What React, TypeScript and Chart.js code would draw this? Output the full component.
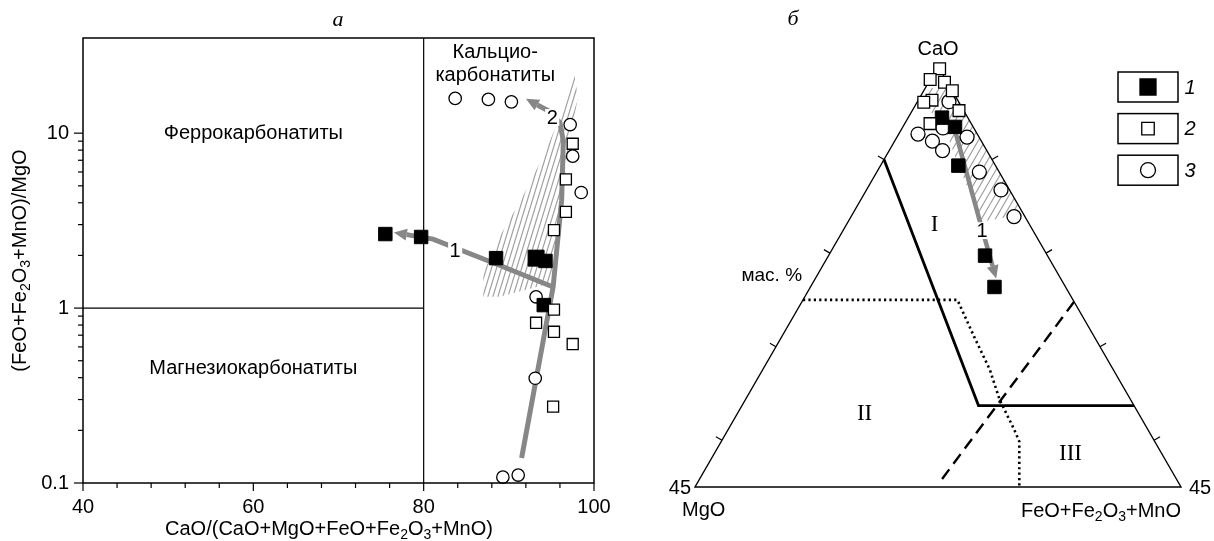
import React, { useEffect, useRef } from 'react';
import { Chart, registerables } from 'chart.js';

Chart.register(...registerables);

const SANS = '"Liberation Sans", Arial, Helvetica, sans-serif';
const SERIF = '"Liberation Serif", "Times New Roman", Times, serif';
const GRAY = '#878787';
const HATCH_GRAY = '#a0a0a0';

// ================= Panel а =================
// x: CaO/(CaO+MgO+FeO+Fe2O3+MnO), y: (FeO+Fe2O3+MnO)/MgO (log)
const xTickValuesA = [40, 44, 48, 52, 56, 60, 64, 68, 72, 76, 80, 84, 88, 92, 96, 100];
const xLabelsA = [40, 60, 80, 100];
const yLabelsA = [0.1, 1, 10];
const yMinorA = [0.2, 0.3, 0.4, 0.5, 0.6, 0.7, 0.8, 0.9, 2, 3, 4, 5, 6, 7, 8, 9];

// group 1 (filled squares)
const group1A = [[75.5, 2.65], [79.7, 2.55], [88.5, 1.93], [93.2, 1.93], [94.3, 1.86], [94.1, 1.04]];
const group1ABig = [false, false, false, true, false, false];
// group 2 (open squares)
const group2A = [[97.5, 8.7], [96.7, 5.44], [96.7, 3.55], [95.3, 2.79], [95.3, 0.98], [93.2, 0.824], [95.3, 0.732], [97.5, 0.623], [95.2, 0.273]];
// group 3 (open circles)
const group3A = [[83.7, 15.8], [87.6, 15.6], [90.3, 15.1], [97.2, 11.2], [97.5, 7.39], [98.5, 4.58], [93.2, 1.16], [93.1, 0.397], [89.3, 0.108], [91.1, 0.111]];
// trends
const trend1A = [[95.2, 1.32], [88.6, 1.78], [81.1, 2.48], [78.0, 2.63]];
const trend2A = [[91.5, 0.139], [95.2, 1.32], [96.2, 4.14], [96.4, 9.0], [96.0, 11.5], [94.8, 13.3], [93.35, 14.5]];
const trend1LabelA = [83.7, 2.14];
const trend2LabelA = [95.1, 12.3];
// hatched field
const hatchA = [[97.6, 23.4], [98.1, 16.1], [96.8, 6.7], [95.6, 2.79], [95.0, 1.39], [88.9, 1.16], [87.0, 1.16], [87.0, 1.58], [88.9, 2.55], [91.6, 4.3], [94.0, 7.3], [96.0, 12.3], [97.2, 20]];

const regionLabelsA = [
  { text: 'Феррокарбонатиты', at: [60, 10] },
  { text: 'Магнезиокарбонатиты', at: [60, 0.454] },
  { text: 'Кальцио-', at: [88.4, 29] },
  { text: 'карбонатиты', at: [88.4, 21.5] },
];

// ================= Panel б (ternary CaO – MgO – FeO+Fe2O3+MnO, CaO 55–100) =================
const SPAN = 45;
const vertexCa = [100, 0, 0];
const vertexMg = [55, 45, 0];
const vertexFe = [55, 0, 45];
const ternTickCaO = [90, 80, 70, 60];

// [CaO, MgO, FeO+Fe2O3+MnO]
const group1B = [[94.48, 2.39, 3.13], [93.49, 1.68, 4.83], [89.35, 3.44, 7.21], [79.73, 5.78, 14.49], [76.38, 6.58, 17.04]];
const group2B = [[99.7, 0, 0.3], [98.55, 1.45, 0], [98.26, 0.27, 1.47], [97.35, 0, 2.65], [96.35, 2.38, 1.27], [96.12, 3.26, 0.62], [95.23, 0.44, 4.33], [93.84, 3.82, 2.34]];
const group3B = [[96.19, 0.89, 2.92], [92.72, 5.49, 1.79], [91.97, 4.53, 3.5], [93.38, 2.85, 3.77], [92.4, 1.11, 6.49], [90.96, 4.1, 4.94], [88.66, 1.84, 9.5], [86.75, 0.79, 12.46], [83.9, 1.01, 15.09]];
const trendB = [[93.5, 1.77, 4.74], [83.4, 4.43, 12.2], [78.62, 5.63, 15.75]];
const trendLabelB = [82.4, 4.73, 12.87];
const hatchB = [[97.69, 2.27, 0.04], [97.48, 0, 2.52], [84.65, 0, 15.35], [84.0, 0.78, 15.22], [83.37, 4.24, 12.39], [88.92, 3.5, 7.58], [93.2, 2.75, 4.05], [95.87, 3.27, 0.86]];
const boundarySolid = [[90, 10, 0], [63.7, 14.4, 21.9], [63.7, 0, 36.3]];
const boundaryDotted = [[75, 25, 0], [75, 10.7, 14.3], [71.1, 11.12, 17.78], [67.54, 11.43, 21.03], [64.33, 12.13, 23.54], [61.31, 12.36, 26.33], [59.87, 12.54, 27.59], [55, 14.97, 30.03]];
const boundaryDashed = [[74.8, 0, 25.2], [55.5, 22.1, 22.4]];
const fieldLabelsB = [
  { text: 'I', at: [83.04, 8.8, 8.16] },
  { text: 'II', at: [62.84, 25.38, 11.78] },
  { text: 'III', at: [58.53, 8.47, 33.0] },
];
const legendLabels = ['1', '2', '3'];

type Pt = { x: number; y: number };
type Part = [string, boolean];

const xTitleA: Part[] = [['CaO/(CaO+MgO+FeO+Fe', false], ['2', true], ['O', false], ['3', true], ['+MnO)', false]];
const yTitleA: Part[] = [['(FeO+Fe', false], ['2', true], ['O', false], ['3', true], ['+MnO)/MgO', false]];
const feLabelB: Part[] = [['FeO+Fe', false], ['2', true], ['O', false], ['3', true], ['+MnO', false]];

function tern(p: number[]): Pt {
  const s = p[0] + p[1] + p[2];
  const mg = (p[1] / s) * 100;
  const fe = (p[2] / s) * 100;
  const wB = mg / SPAN;
  const wC = fe / SPAN;
  const wA = 1 - wB - wC;
  return { x: wA * 0.5 + wC, y: wA };
}

function drawRich(ctx: CanvasRenderingContext2D, parts: Part[], x: number, y: number, size: number, align: string) {
  const big = `${size}px ${SANS}`;
  const small = `${Math.round(size * 0.7)}px ${SANS}`;
  let total = 0;
  const widths = parts.map(([t, sub]) => {
    ctx.font = sub ? small : big;
    const w = ctx.measureText(t).width;
    total += w;
    return w;
  });
  let cx = align === 'center' ? x - total / 2 : align === 'right' ? x - total : x;
  ctx.textAlign = 'left';
  ctx.textBaseline = 'alphabetic';
  ctx.fillStyle = '#000';
  parts.forEach(([t, sub], i) => {
    ctx.font = sub ? small : big;
    ctx.fillText(t, cx, sub ? y + size * 0.22 : y);
    cx += widths[i];
  });
}

function drawHatch(ctx: CanvasRenderingContext2D, pts: Pt[], angleDeg: number, gap: number, color: string, lw: number) {
  ctx.save();
  ctx.beginPath();
  pts.forEach((p, i) => (i ? ctx.lineTo(p.x, p.y) : ctx.moveTo(p.x, p.y)));
  ctx.closePath();
  ctx.clip();
  const xs = pts.map((p) => p.x);
  const ys = pts.map((p) => p.y);
  const minX = Math.min(...xs), maxX = Math.max(...xs), minY = Math.min(...ys), maxY = Math.max(...ys);
  const cx = (minX + maxX) / 2, cy = (minY + maxY) / 2;
  const R = Math.hypot(maxX - minX, maxY - minY) / 2 + 4;
  const a = (angleDeg * Math.PI) / 180;
  const dx = Math.cos(a), dy = -Math.sin(a);
  const nx = -dy, ny = dx;
  ctx.strokeStyle = color;
  ctx.lineWidth = lw;
  ctx.beginPath();
  for (let t = -R; t <= R; t += gap) {
    const ox = cx + nx * t, oy = cy + ny * t;
    ctx.moveTo(ox - dx * R, oy - dy * R);
    ctx.lineTo(ox + dx * R, oy + dy * R);
  }
  ctx.stroke();
  ctx.restore();
}

function drawArrowHead(ctx: CanvasRenderingContext2D, from: Pt, to: Pt, len: number, halfW: number, color: string) {
  const ang = Math.atan2(to.y - from.y, to.x - from.x);
  ctx.save();
  ctx.translate(to.x, to.y);
  ctx.rotate(ang);
  ctx.fillStyle = color;
  ctx.beginPath();
  ctx.moveTo(len, 0);
  ctx.lineTo(0, -halfW);
  ctx.lineTo(0, halfW);
  ctx.closePath();
  ctx.fill();
  ctx.restore();
}

function drawTag(ctx: CanvasRenderingContext2D, text: string, x: number, y: number, size: number) {
  ctx.save();
  ctx.font = `${size}px ${SANS}`;
  const w = ctx.measureText(text).width;
  ctx.fillStyle = '#fff';
  ctx.fillRect(x - w / 2 - 1.5, y - size * 0.42, w + 3, size * 0.84);
  ctx.fillStyle = '#000';
  ctx.textAlign = 'center';
  ctx.textBaseline = 'middle';
  ctx.fillText(text, x, y + 1);
  ctx.restore();
}

function line(ctx: CanvasRenderingContext2D, x1: number, y1: number, x2: number, y2: number) {
  ctx.beginPath();
  ctx.moveTo(x1, y1);
  ctx.lineTo(x2, y2);
  ctx.stroke();
}

const toXY = (arr: number[][]) => arr.map(([x, y]) => ({ x, y }));

const panelAPlugin = {
  id: 'panelA',
  beforeDatasetsDraw(chart: any) {
    const { ctx, chartArea: ca, scales } = chart;
    const xs = scales.x, ys = scales.y;
    drawHatch(ctx, hatchA.map(([a, b]) => ({ x: xs.getPixelForValue(a), y: ys.getPixelForValue(b) })), 73, 4.8, HATCH_GRAY, 1.2);
    ctx.save();
    ctx.strokeStyle = '#000';
    ctx.lineWidth = 1.2;
    const x80 = xs.getPixelForValue(80);
    line(ctx, x80, ca.top, x80, ca.bottom);
    const y1 = ys.getPixelForValue(1);
    line(ctx, ca.left, y1, x80, y1);
    ctx.restore();
  },
  afterDatasetDraw(chart: any, args: any) {
    const ds = chart.data.datasets[args.index];
    if (!ds.arrow) return;
    const pts = args.meta.data;
    const n = pts.length;
    const { ctx, scales } = chart;
    drawArrowHead(ctx, pts[n - 2], pts[n - 1], 13, 6, GRAY);
    drawTag(ctx, ds.tagText, scales.x.getPixelForValue(ds.tagAt[0]), scales.y.getPixelForValue(ds.tagAt[1]), 20);
  },
  afterDraw(chart: any) {
    const { ctx, chartArea: ca, scales } = chart;
    const xs = scales.x, ys = scales.y;
    ctx.save();
    ctx.strokeStyle = '#000';
    ctx.lineWidth = 1.5;
    ctx.strokeRect(ca.left, ca.top, ca.right - ca.left, ca.bottom - ca.top);
    ctx.lineWidth = 1.2;
    xs.ticks.forEach((t: any) => {
      const px = xs.getPixelForValue(t.value);
      const len = xLabelsA.includes(t.value) ? 8 : 5;
      line(ctx, px, ca.bottom, px, ca.bottom + len);
    });
    ys.ticks.forEach((t: any) => {
      const py = ys.getPixelForValue(t.value);
      const len = yLabelsA.includes(t.value) ? 9 : 5;
      line(ctx, ca.left - len, py, ca.left, py);
    });
    // titles
    drawRich(ctx, xTitleA, 329, 535, 20, 'center');
    ctx.save();
    ctx.translate(26, (ca.top + ca.bottom) / 2);
    ctx.rotate(-Math.PI / 2);
    drawRich(ctx, yTitleA, 0, 0, 20, 'center');
    ctx.restore();
    // region labels
    ctx.fillStyle = '#000';
    ctx.font = `20px ${SANS}`;
    ctx.textAlign = 'center';
    ctx.textBaseline = 'middle';
    regionLabelsA.forEach((r) => {
      ctx.fillText(r.text, xs.getPixelForValue(r.at[0]), ys.getPixelForValue(r.at[1]));
    });
    // panel letter
    ctx.font = `italic 22px ${SERIF}`;
    ctx.fillText('а', 338, 20);
    ctx.restore();
  },
};

const panelBPlugin = {
  id: 'panelB',
  beforeDatasetsDraw(chart: any) {
    const { ctx, scales } = chart;
    const P = (p: number[]) => {
      const t = tern(p);
      return { x: scales.x.getPixelForValue(t.x), y: scales.y.getPixelForValue(t.y) };
    };
    drawHatch(ctx, hatchB.map(P), 60, 6, HATCH_GRAY, 1.2);
  },
  afterDatasetDraw(chart: any, args: any) {
    const ds = chart.data.datasets[args.index];
    if (!ds.arrow) return;
    const pts = args.meta.data;
    const n = pts.length;
    const { ctx, scales } = chart;
    drawArrowHead(ctx, pts[n - 2], pts[n - 1], 13, 6, GRAY);
    const t = tern(ds.tagAt);
    drawTag(ctx, ds.tagText, scales.x.getPixelForValue(t.x), scales.y.getPixelForValue(t.y), 20);
  },
  afterDraw(chart: any) {
    const { ctx, scales } = chart;
    const P = (p: number[]) => {
      const t = tern(p);
      return { x: scales.x.getPixelForValue(t.x), y: scales.y.getPixelForValue(t.y) };
    };
    const A = P(vertexCa), B = P(vertexMg), C = P(vertexFe);
    ctx.save();
    ctx.strokeStyle = '#000';
    ctx.lineWidth = 1.2;
    // edge ticks (perpendicular, outward)
    const lx = A.x - B.x, ly = A.y - B.y, ll = Math.hypot(lx, ly);
    const nLx = ly / ll, nLy = -lx / ll;
    const rx = A.x - C.x, ry = A.y - C.y, rl = Math.hypot(rx, ry);
    const nRx = -ry / rl, nRy = rx / rl;
    ternTickCaO.forEach((ca) => {
      const l = P([ca, 100 - ca, 0]);
      line(ctx, l.x, l.y, l.x + nLx * 7, l.y + nLy * 7);
      const r = P([ca, 0, 100 - ca]);
      line(ctx, r.x, r.y, r.x + nRx * 7, r.y + nRy * 7);
    });
    ctx.fillStyle = '#000';
    ctx.font = `20px ${SANS}`;
    ctx.textBaseline = 'middle';
    ctx.textAlign = 'center';
    ctx.fillText('CaO', A.x, A.y - 17);
    ctx.textAlign = 'right';
    ctx.fillText('45', B.x - 4, B.y + 1);
    ctx.textAlign = 'left';
    ctx.fillText('45', C.x + 8, C.y + 1);
    ctx.fillText('MgO', B.x - 13, B.y + 23);
    drawRich(ctx, feLabelB, C.x, C.y + 30, 20, 'right');
    // mass %
    const m = P([77.6, 22.4, 0]);
    ctx.font = `19px ${SANS}`;
    ctx.textAlign = 'right';
    ctx.textBaseline = 'middle';
    ctx.fillText('мас. %', m.x - 15, m.y);
    // field labels
    ctx.font = `23px ${SERIF}`;
    ctx.textAlign = 'center';
    fieldLabelsB.forEach((f) => {
      const p = P(f.at);
      ctx.fillText(f.text, p.x, p.y);
    });
    // panel letter
    ctx.font = `italic 22px ${SERIF}`;
    ctx.fillText('б', 183, 19);
    // legend
    const dss = chart.data.datasets;
    legendLabels.forEach((lab, i) => {
      const ds = dss.find((d: any) => d.label === lab);
      const bx = 508, by = 72 + i * 41.6, bw = 60, bh = 30;
      ctx.lineWidth = 1.5;
      ctx.strokeStyle = '#000';
      ctx.strokeRect(bx, by, bw, bh);
      const cx = bx + 30, cy = by + bh / 2;
      ctx.lineWidth = 1.3;
      ctx.fillStyle = ds.backgroundColor;
      ctx.beginPath();
      if (ds.pointStyle === 'circle') {
        ctx.arc(cx, cy, 7.5, 0, Math.PI * 2);
      } else {
        const s = ds.backgroundColor === '#000' ? 16 : 12.5;
        ctx.rect(cx - s / 2, cy - s / 2, s, s);
      }
      ctx.fill();
      ctx.stroke();
      ctx.fillStyle = '#000';
      ctx.font = `italic 20px ${SANS}`;
      ctx.textAlign = 'center';
      ctx.textBaseline = 'middle';
      ctx.fillText(lab, bx + bw + 12, cy + 1);
    });
    ctx.restore();
  },
};

export default function App() {
  const refA = useRef<HTMLCanvasElement>(null);
  const refB = useRef<HTMLCanvasElement>(null);

  useEffect(() => {
    Chart.defaults.font.family = SANS;
    Chart.defaults.color = '#000';

    const chartA = new Chart(refA.current as HTMLCanvasElement, {
      type: 'scatter',
      data: {
        datasets: [
          {
            label: '2', data: toXY(group2A), pointStyle: 'rect', pointRadius: 7.8,
            backgroundColor: '#fff', borderColor: '#000', borderWidth: 1.3, order: 1, clip: false,
          },
          {
            label: '1', data: toXY(group1A), pointStyle: 'rect',
            pointRadius: group1ABig.map((b) => (b ? 11.3 : 9.5)),
            backgroundColor: '#000', borderColor: '#000', borderWidth: 1, order: 2, clip: false,
          },
          {
            label: '3', data: toXY(group3A), pointStyle: 'circle', pointRadius: 6.2,
            backgroundColor: '#fff', borderColor: '#000', borderWidth: 1.3, order: 3, clip: false,
          },
          {
            label: 'trend1', data: toXY(trend1A), showLine: true, pointRadius: 0, borderColor: GRAY,
            borderWidth: 5, order: 10, arrow: true, tagText: '1', tagAt: trend1LabelA, clip: false,
          } as any,
          {
            label: 'trend2', data: toXY(trend2A), showLine: true, pointRadius: 0, borderColor: GRAY,
            borderWidth: 5, order: 11, arrow: true, tagText: '2', tagAt: trend2LabelA, clip: false,
          } as any,
        ],
      },
      options: {
        responsive: false,
        animation: false,
        events: [],
        layout: { padding: { left: 0, top: 38, right: 18, bottom: 0 } },
        plugins: { legend: { display: false }, tooltip: { enabled: false } },
        scales: {
          x: {
            type: 'linear', min: 40, max: 100,
            afterBuildTicks: (s: any) => { s.ticks = xTickValuesA.map((v) => ({ value: v })); },
            afterFit: (s: any) => { s.height = 58; s.paddingLeft = 0; s.paddingRight = 0; },
            ticks: {
              autoSkip: false, maxRotation: 0, minRotation: 0, padding: 4, color: '#000',
              font: { family: SANS, size: 20 },
              callback: (v: any) => (xLabelsA.includes(Number(v)) ? String(v) : ''),
            },
            grid: { display: false },
            border: { display: false },
          },
          y: {
            type: 'logarithmic', min: 0.1, max: 35,
            afterBuildTicks: (s: any) => {
              s.ticks = [...yLabelsA, ...yMinorA].sort((a, b) => a - b).map((v) => ({ value: v }));
            },
            afterFit: (s: any) => { s.width = 83; s.paddingTop = 0; s.paddingBottom = 0; },
            ticks: {
              autoSkip: false, padding: 6, color: '#000',
              font: { family: SANS, size: 20 },
              callback: (v: any) => (yLabelsA.includes(Number(v)) ? String(v) : ''),
            },
            grid: { display: false },
            border: { display: false },
          },
        },
      } as any,
      plugins: [panelAPlugin],
    });

    const P = (arr: number[][]) => arr.map(tern);
    const chartB = new Chart(refB.current as HTMLCanvasElement, {
      type: 'scatter',
      data: {
        datasets: [
          {
            label: '2', data: P(group2B), pointStyle: 'rect', pointRadius: 8.3,
            backgroundColor: '#fff', borderColor: '#000', borderWidth: 1.3, order: 1, clip: false,
          },
          {
            label: '1', data: P(group1B), pointStyle: 'rect', pointRadius: 9.5,
            backgroundColor: '#000', borderColor: '#000', borderWidth: 1, order: 2, clip: false,
          },
          {
            label: '3', data: P(group3B), pointStyle: 'circle', pointRadius: 7,
            backgroundColor: '#fff', borderColor: '#000', borderWidth: 1.3, order: 3, clip: false,
          },
          {
            label: 'trend', data: P(trendB), showLine: true, pointRadius: 0, borderColor: GRAY,
            borderWidth: 4.5, order: 10, arrow: true, tagText: '1', tagAt: trendLabelB, clip: false,
          } as any,
          {
            label: 'edges', data: P([vertexCa, vertexMg, vertexFe, vertexCa]), showLine: true, pointRadius: 0,
            borderColor: '#000', borderWidth: 1.4, order: 20, clip: false,
          },
          {
            label: 'solid', data: P(boundarySolid), showLine: true, pointRadius: 0,
            borderColor: '#000', borderWidth: 2.8, order: 15, clip: false,
          },
          {
            label: 'dotted', data: P(boundaryDotted), showLine: true, pointRadius: 0,
            borderColor: '#000', borderWidth: 2.6, borderDash: [2.2, 3.2], order: 16, clip: false,
          },
          {
            label: 'dashed', data: P(boundaryDashed), showLine: true, pointRadius: 0,
            borderColor: '#000', borderWidth: 2.4, borderDash: [12, 7], order: 17, clip: false,
          },
        ],
      },
      options: {
        responsive: false,
        animation: false,
        events: [],
        layout: { padding: { left: 85, right: 33, top: 66, bottom: 54 } },
        plugins: { legend: { display: false }, tooltip: { enabled: false } },
        scales: {
          x: { type: 'linear', min: 0, max: 1, display: false },
          y: { type: 'linear', min: 0, max: 1, display: false },
        },
      } as any,
      plugins: [panelBPlugin],
    });

    return () => {
      chartA.destroy();
      chartB.destroy();
    };
  }, []);

  return (
    <div style={{ position: 'absolute', left: 0, top: 0, width: 1214, height: 541, background: '#fff' }}>
      <canvas ref={refA} width={612} height={541} style={{ position: 'absolute', left: 0, top: 0, width: 612, height: 541 }} />
      <canvas ref={refB} width={604} height={541} style={{ position: 'absolute', left: 610, top: 0, width: 604, height: 541 }} />
    </div>
  );
}
